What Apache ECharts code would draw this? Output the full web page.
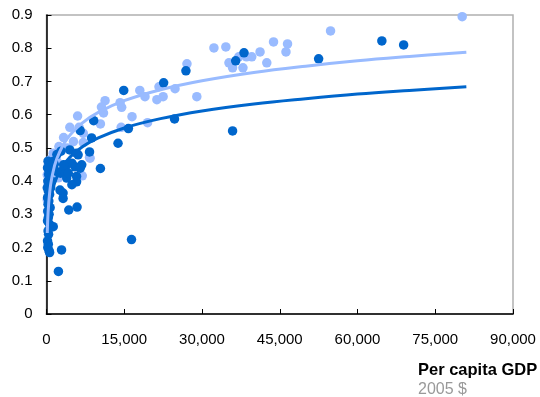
<!DOCTYPE html>
<html><head><meta charset="utf-8">
<script src="https://cdn.jsdelivr.net/npm/echarts@6/dist/echarts.min.js"></script>
<style>html,body{margin:0;padding:0;background:#fff}#c{width:540px;height:397px}</style>
</head><body><div id="c"></div>
<script>
var xTicks = [0, 15000, 30000, 45000, 60000, 75000, 90000];
var yTicks = [0, 0.1, 0.2, 0.3, 0.4, 0.5, 0.6, 0.7, 0.8, 0.9];
var darkPoints = [
[64700,0.822],[68900,0.81],[52500,0.768],[38100,0.786],[36500,0.762],[26900,0.732],[22600,0.696],[24700,0.587],[35900,0.551],
[14900,0.673],[9100,0.582],[6500,0.552],[8700,0.53],[13800,0.514],[15800,0.558],[8300,0.488],[10400,0.438],[16400,0.224],[4300,0.313],[5900,0.322],[2900,0.193],[2300,0.128],
[700,0.454],[1300,0.459],[4500,0.494],[5800,0.484],[3900,0.449],[5500,0.443],[6800,0.449],[3200,0.434],[2700,0.424],[3900,0.409],[5800,0.414],[5800,0.398],[4900,0.389],[3200,0.364],[3200,0.348],[2600,0.373],[1300,0.263],[4900,0.454],[6100,0.479],[4200,0.424],[6500,0.439],[350,0.439],[3300,0.449],
[300,0.46],[200,0.44],[400,0.42],[250,0.40],[500,0.39],[150,0.38],[350,0.37],[600,0.36],[200,0.35],[450,0.34],[300,0.33],[700,0.32],[250,0.31],[500,0.30],[350,0.29],[200,0.28],[600,0.27],[300,0.25],[400,0.24],[200,0.22],[350,0.21],[250,0.20],[500,0.19],[600,0.185],[1000,0.40],[800,0.38],[1500,0.45],[2000,0.48],[2800,0.49],[1800,0.43]
];
var lightPoints = [
[80200,0.895],[54800,0.852],[32300,0.801],[34600,0.804],[43800,0.819],[46500,0.813],[46200,0.789],[41200,0.789],[42500,0.756],[35200,0.756],[35900,0.741],[37900,0.741],[39600,0.774],[38600,0.774],[37100,0.774],[27100,0.753],[24800,0.678],[21700,0.684],[22500,0.654],[21300,0.645],[29000,0.654],
[18000,0.673],[19000,0.654],[16500,0.594],[11300,0.642],[14200,0.636],[14500,0.622],[10600,0.623],[11000,0.605],[10400,0.572],[14400,0.562],[19500,0.576],[6000,0.596],[4500,0.562],[6300,0.562],[3300,0.531],[7100,0.544],[7100,0.516],[8300,0.472],[6900,0.416],[2400,0.504],[1600,0.479],[150,0.419],[5200,0.519],[1300,0.484],[700,0.464],[350,0.449],[8400,0.469],[2300,0.41],[150,0.343],[200,0.308],[300,0.39],[1000,0.44],[4000,0.50],[2000,0.46]
];
var trendX = [150, 300, 600, 1000, 2000, 4000, 7000, 10000, 15000, 22000, 30000, 40000, 50000, 60000, 70000, 81000];
var darkTrend = [0.221, 0.272, 0.323, 0.361, 0.412, 0.463, 0.504, 0.530, 0.560, 0.588, 0.611, 0.632, 0.648, 0.662, 0.673, 0.684];
var lightTrend = [0.244, 0.304, 0.364, 0.408, 0.468, 0.528, 0.576, 0.607, 0.642, 0.675, 0.702, 0.727, 0.746, 0.762, 0.775, 0.788];

var DARK = '#0066CC', LIGHT = '#99BBFF';
function zip(xs, ys){ return xs.map(function(x,i){ return [x, ys[i]]; }); }
var chart = echarts.init(document.getElementById('c'), null, {renderer:'canvas'});
var font = 'Liberation Sans, Arial, sans-serif';
chart.setOption({
  animation: false,
  grid: {left: 46.5, right: 27, top: 15, bottom: 83, show: true, borderColor: '#b0b0b0', borderWidth: 1.5},
  xAxis: {
    type: 'value', min: xTicks[0], max: xTicks[xTicks.length-1], interval: 15000,
    axisLine: {show: true, onZero: false, lineStyle: {color: '#000', width: 1.5}},
    axisTick: {show: true, inside: true, length: 5, lineStyle: {color: '#000'}},
    splitLine: {show: false},
    axisLabel: {color: '#000', fontSize: 15, fontFamily: font, margin: 18,
      formatter: function(v){ return v.toLocaleString('en-US'); }}
  },
  yAxis: {
    type: 'value', min: yTicks[0], max: yTicks[yTicks.length-1], interval: 0.1,
    axisLine: {show: true, onZero: false, lineStyle: {color: '#000', width: 1.5}},
    axisTick: {show: true, inside: true, length: 5, lineStyle: {color: '#000'}},
    splitLine: {show: false},
    axisLabel: {color: '#000', fontSize: 15, fontFamily: font, margin: 14,
      formatter: function(v){ return String(Math.round(v*10)/10); }}
  },
  series: [
    {type: 'scatter', data: lightPoints, symbolSize: 9.5, itemStyle: {color: LIGHT, opacity: 1}, z: 2},
    {type: 'scatter', data: darkPoints, symbolSize: 9.5, itemStyle: {color: DARK, opacity: 1}, z: 2},
    {type: 'line', data: zip(trendX, darkTrend), smooth: 0.4, showSymbol: false, lineStyle: {color: DARK, width: 3}, z: 3},
    {type: 'line', data: zip(trendX, lightTrend), smooth: 0.4, showSymbol: false, lineStyle: {color: LIGHT, width: 3}, z: 3}
  ],
  graphic: [
    {type: 'text', left: 418, top: 362, style: {text: 'Per capita GDP', font: 'bold 16.5px ' + font, fill: '#000'}},
    {type: 'text', left: 418, top: 382, style: {text: '2005 $', font: '16px ' + font, fill: '#999999'}}
  ]
});
</script></body></html>
